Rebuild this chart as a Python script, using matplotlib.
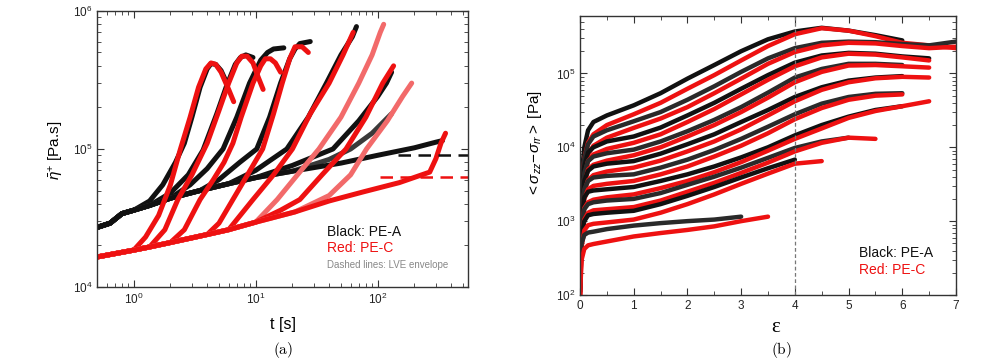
import matplotlib.pyplot as plt
from matplotlib.ticker import LogLocator, MultipleLocator, NullFormatter

plt.rcParams['font.family'] = ['Liberation Sans', 'DejaVu Sans']
plt.rcParams['mathtext.fontset'] = 'custom'
plt.rcParams['mathtext.rm'] = 'Liberation Sans'
plt.rcParams['mathtext.it'] = 'Liberation Sans:italic'

BLACK = '#111111'
RED = '#ee1111'
PINK = '#f26a6a'

# ---- (a) transient extensional viscosity vs time ----
# PE-A (black): common start-up curve, then each rate leaves it
pea_base_t = [0.5, 0.64, 0.8, 1.0, 1.35, 2.0, 3.5, 6, 10, 20, 50, 100, 200, 300]
pea_base_eta = [2.7e4, 2.9e4, 3.4e4, 3.6e4, 3.9e4, 4.4e4, 5.0e4, 5.6e4, 6.2e4,
                6.9e4, 7.9e4, 9.0e4, 1.02e5, 1.12e5]

# (number of base points kept, t after departure, eta after departure)
pea_a1 = (4, [1.35, 1.73, 2.2, 2.6, 3.0, 3.5, 4.0, 4.3, 4.7, 5.2, 5.8],
          [4.2e4, 5.5e4, 8.0e4, 1.1e5, 1.7e5, 2.8e5, 3.8e5, 4.15e5, 4.1e5, 3.7e5, 3.0e5])
pea_a2 = (5, [2.0, 2.8, 3.7, 4.8, 5.8, 6.8, 7.5, 8.3, 9.5],
          [4.8e4, 6.5e4, 9.8e4, 1.8e5, 2.9e5, 4.1e5, 4.6e5, 4.8e5, 4.6e5])
pea_a3 = (6, [2.9, 4.0, 5.4, 7.0, 8.9, 11, 12.5, 14, 17],
          [5.5e4, 7.2e4, 1.0e5, 1.7e5, 3.0e5, 4.4e5, 5.0e5, 5.3e5, 5.4e5])
pea_a4 = (7, [5, 7.4, 10.2, 13, 16, 19, 21, 23, 28],
          [6.0e4, 8.0e4, 1.0e5, 1.7e5, 3.0e5, 4.5e5, 5.3e5, 5.8e5, 6.0e5])
pea_a5 = (8, [10, 18, 27, 38, 50, 62, 67],
          [7.0e4, 1.0e5, 1.7e5, 3.0e5, 4.8e5, 6.5e5, 7.7e5])
pea_a6 = (9, [20, 43, 70, 100, 118, 130],
          [7.6e4, 1.0e5, 1.6e5, 2.4e5, 3.0e5, 3.6e5])
pea_a7 = (10, [40, 60, 90, 130], [8.4e4, 1.0e5, 1.3e5, 1.8e5])
pea_a8 = (14, [340], [1.15e5])

# PE-C (red)
pec_base_t = [0.5, 1.0, 1.35, 2.0, 4, 6, 10, 21, 40, 77, 150, 267]
pec_base_eta = [1.65e4, 1.85e4, 1.95e4, 2.1e4, 2.4e4, 2.6e4, 2.95e4, 3.5e4,
                4.2e4, 4.9e4, 5.7e4, 6.8e4]

pec_a1 = (2, [1.25, 1.6, 2.0, 2.4, 2.9, 3.4, 3.9, 4.3, 4.7, 5.2, 6.0, 6.6],
          [2.3e4, 3.3e4, 5.5e4, 9.8e4, 1.7e5, 2.8e5, 3.8e5, 4.2e5, 4.1e5, 3.6e5, 2.7e5, 2.2e5])
pec_a2 = (3, [1.8, 2.3, 3.0, 4.0, 5.0, 6.0, 7.0, 7.7, 8.5, 9.5, 10.5, 11.5],
          [2.6e4, 4.3e4, 6.5e4, 1.1e5, 1.9e5, 3.0e5, 4.2e5, 4.7e5, 4.7e5, 4.2e5, 3.3e5, 2.7e5])
pec_a3 = (4, [2.6, 3.5, 4.5, 5.5, 6.5, 7.6, 9.5, 11, 12, 13.2, 14.5, 16],
          [2.6e4, 4.3e4, 6.0e4, 8.0e4, 1.1e5, 1.7e5, 3.0e5, 4.0e5, 4.5e5, 4.5e5, 4.2e5, 3.6e5])
pec_a4 = (5, [5, 6.5, 9, 11.4, 14, 16.5, 19, 21, 24, 27],
          [2.9e4, 4.3e4, 7.0e4, 1.0e5, 1.8e5, 3.0e5, 4.5e5, 5.5e5, 5.5e5, 5.0e5])
pec_a5 = (6, [9.5, 14, 20, 28, 40, 52, 63],
          [4.3e4, 6.5e4, 1.0e5, 1.8e5, 3.0e5, 4.8e5, 7.0e5])
pec_a6 = (7, [15, 22, 33, 50, 70, 90, 105, 112],
          [4.3e4, 6.5e4, 1.0e5, 1.7e5, 3.0e5, 4.8e5, 7.0e5, 8.0e5])
pec_a7 = (7, [16, 23, 35, 55, 80, 110, 135],
          [3.6e4, 4.3e4, 6.5e4, 1.0e5, 1.7e5, 3.0e5, 4.0e5])
pec_a8 = (8, [40, 60, 81, 120, 160, 190],
          [4.6e4, 6.5e4, 1.0e5, 1.6e5, 2.4e5, 3.0e5])
pec_a9 = (12, [300, 330, 360], [8.5e4, 1.1e5, 1.3e5])

# LVE envelopes (visible plateau part)
lve_pea_t = [146, 550]
lve_pea_eta = [9.0e4, 9.0e4]
lve_pec_t = [105, 550]
lve_pec_eta = [6.25e4, 6.25e4]

# ---- (b) stress difference vs Hencky strain ----
eps_grid = [0, 0.03, 0.08, 0.15, 0.25, 0.5, 1, 1.5, 2, 2.5, 3, 3.5, 4, 4.5,
            5, 5.5, 6, 6.5, 7]

pea_b1 = [400, 4e3, 1.0e4, 1.7e4, 2.2e4, 2.7e4, 3.7e4, 5.4e4, 8.5e4, 1.3e5,
          2.0e5, 2.9e5, 3.7e5, 4.15e5, 3.8e5, 3.3e5, 2.8e5]
pec_b1 = [200, 2.5e3, 7e3, 1.15e4, 1.5e4, 2.0e4, 2.8e4, 4.0e4, 6.2e4, 9.5e4,
          1.5e5, 2.35e5, 3.4e5, 4.1e5, 3.8e5, 3.2e5, 2.6e5, 2.4e5, 2.2e5]
pea_b2 = [300, 3e3, 7e3, 1.1e4, 1.4e4, 1.7e4, 2.25e4, 3.0e4, 4.4e4, 6.7e4,
          1.05e5, 1.6e5, 2.2e5, 2.6e5, 2.7e5, 2.65e5, 2.5e5, 2.4e5, 2.7e5]
pec_b2 = [150, 2e3, 5e3, 8e3, 1.05e4, 1.35e4, 1.83e4, 2.45e4, 3.5e4, 5.4e4,
          8.5e4, 1.35e5, 1.95e5, 2.4e5, 2.6e5, 2.55e5, 2.35e5, 2.2e5, 2.3e5]
pea_b3 = [250, 2.5e3, 5.5e3, 8.5e3, 1.0e4, 1.2e4, 1.4e4, 1.85e4, 2.7e4, 4.0e4,
          6.2e4, 9.5e4, 1.4e5, 1.75e5, 1.9e5, 1.85e5, 1.7e5, 1.6e5]
pec_b3 = [130, 1.6e3, 4e3, 6.5e3, 8e3, 9.5e3, 1.15e4, 1.5e4, 2.2e4, 3.3e4,
          5.2e4, 8.2e4, 1.25e5, 1.65e5, 1.85e5, 1.8e5, 1.65e5, 1.5e5]
pea_b4 = [200, 2e3, 4.5e3, 6.5e3, 7.5e3, 8.3e3, 9.3e3, 1.2e4, 1.65e4, 2.35e4,
          3.5e4, 5.5e4, 8.8e4, 1.15e5, 1.35e5, 1.35e5, 1.3e5]
pec_b4 = [120, 1.3e3, 3.2e3, 5e3, 5.8e3, 6.6e3, 7.8e3, 1.0e4, 1.4e4, 2.0e4,
          3.0e4, 4.7e4, 7.6e4, 1.05e5, 1.28e5, 1.3e5, 1.25e5, 1.2e5]
pea_b5 = [180, 1.6e3, 3.5e3, 4.8e3, 5.5e3, 6.0e3, 6.5e3, 8.2e3, 1.1e4, 1.5e4,
          2.2e4, 3.2e4, 4.8e4, 6.5e4, 8.0e4, 8.8e4, 9.2e4]
pec_b5 = [110, 1.1e3, 2.5e3, 3.6e3, 4.2e3, 4.7e3, 5.3e3, 6.6e3, 8.8e3, 1.2e4,
          1.75e4, 2.7e4, 4.2e4, 6.0e4, 7.6e4, 8.6e4, 9.0e4, 8.8e4]
pea_b6 = [160, 1.3e3, 2.7e3, 3.5e3, 3.9e3, 4.1e3, 4.3e3, 5.3e3, 6.8e3, 9.2e3,
          1.3e4, 1.9e4, 2.8e4, 3.9e4, 4.8e4, 5.3e4, 5.4e4]
pec_b6 = [100, 900, 2e3, 2.7e3, 3.0e3, 3.2e3, 3.5e3, 4.3e3, 5.5e3, 7.5e3,
          1.05e4, 1.55e4, 2.4e4, 3.4e4, 4.4e4, 5.0e4, 5.2e4]
pea_b7 = [140, 1.1e3, 2.1e3, 2.5e3, 2.6e3, 2.7e3, 2.9e3, 3.5e3, 4.3e3, 5.5e3,
          7.3e3, 1.0e4, 1.45e4, 2.0e4, 2.6e4, 3.2e4, 3.6e4]
pec_b7 = [100, 750, 1.5e3, 1.8e3, 1.95e3, 2.1e3, 2.3e3, 2.8e3, 3.5e3, 4.6e3,
          6.3e3, 9.0e3, 1.3e4, 1.8e4, 2.5e4, 3.1e4, 3.6e4, 4.2e4]
pea_b8 = [130, 850, 1.45e3, 1.7e3, 1.8e3, 1.9e3, 2.0e3, 2.4e3, 3.1e3, 4.0e3,
          5.3e3, 7.2e3, 9.8e3, 1.2e4, 1.35e4]
pec_b8 = [100, 600, 1.05e3, 1.3e3, 1.4e3, 1.45e3, 1.55e3, 1.9e3, 2.5e3, 3.3e3,
          4.5e3, 6.2e3, 8.8e3, 1.15e4, 1.35e4, 1.3e4]
pea_b9 = [120, 650, 1.0e3, 1.2e3, 1.25e3, 1.3e3, 1.38e3, 1.7e3, 2.2e3, 2.9e3,
          3.9e3, 5.2e3, 6.8e3]
pec_b9 = [100, 450, 750, 880, 920, 960, 1.05e3, 1.3e3, 1.7e3, 2.3e3,
          3.2e3, 4.4e3, 6.0e3, 6.5e3]
pea_b10 = [110, 500, 650, 700, 720, 780, 870, 940, 1.0e3, 1.05e3, 1.15e3]
pec_b10 = [100, 300, 420, 470, 490, 530, 620, 690, 760, 850, 1.0e3, 1.15e3]

strain_ref = 4


def build(base_t, base_eta, curve):
    n, t, eta = curve
    return base_t[:n] + t, base_eta[:n] + eta


fig = plt.figure(figsize=(10, 3.64), dpi=100)
ax1 = fig.add_axes([0.097, 0.2115, 0.371, 0.7585])
ax2 = fig.add_axes([0.58, 0.1896, 0.376, 0.7665])

lw = 3.6
black_a = [pea_a1, pea_a2, pea_a3, pea_a4, pea_a5, pea_a6, pea_a7, pea_a8]
red_a = [pec_a1, pec_a2, pec_a3, pec_a4, pec_a5, pec_a6, pec_a7, pec_a8, pec_a9]
black_cols = [BLACK, BLACK, BLACK, BLACK, BLACK, BLACK, '#3a3a3a', BLACK]
red_cols = [RED, RED, RED, RED, RED, PINK, RED, PINK, RED]

for c, col in zip(black_a, black_cols):
    t, eta = build(pea_base_t, pea_base_eta, c)
    ax1.plot(t, eta, color=col, lw=lw, solid_capstyle='round', solid_joinstyle='round')
for c, col in zip(red_a, red_cols):
    t, eta = build(pec_base_t, pec_base_eta, c)
    ax1.plot(t, eta, color=col, lw=lw, solid_capstyle='round', solid_joinstyle='round')

ax1.plot(lve_pea_t, lve_pea_eta, color=BLACK, lw=1.8, ls=(0, (5, 3)))
ax1.plot(lve_pec_t, lve_pec_eta, color=RED, lw=1.8, ls=(0, (5, 3)))

ax1.set_xscale('log')
ax1.set_yscale('log')
ax1.set_xlim(0.5, 550)
ax1.set_ylim(1e4, 1e6)

ax1.text(0.62, 0.2, 'Black: PE-A', transform=ax1.transAxes, color=BLACK,
         fontsize=10, va='center')
ax1.text(0.62, 0.141, 'Red: PE-C', transform=ax1.transAxes, color=RED,
         fontsize=10, va='center')
ax1.text(0.62, 0.08, 'Dashed lines: LVE envelope', transform=ax1.transAxes,
         color='#888888', fontsize=7, va='center')

# panel b
black_b = [pea_b1, pea_b2, pea_b3, pea_b4, pea_b5, pea_b6, pea_b7, pea_b8, pea_b9, pea_b10]
red_b = [pec_b1, pec_b2, pec_b3, pec_b4, pec_b5, pec_b6, pec_b7, pec_b8, pec_b9, pec_b10]
for i, (a, c) in enumerate(zip(black_b, red_b)):
    ax2.plot(eps_grid[:len(a)], a, color=BLACK if i % 2 == 0 else '#2a2a2a',
             lw=3.2, solid_capstyle='round', solid_joinstyle='round')
    ax2.plot(eps_grid[:len(c)], c, color=RED, lw=3.2, solid_capstyle='round',
             solid_joinstyle='round')

ax2.axvline(strain_ref, color='#777777', lw=0.9, ls=(0, (3, 2)))
ax2.set_yscale('log')
ax2.set_xlim(0, 7)
ax2.set_ylim(1e2, 6e5)
ax2.xaxis.set_major_locator(MultipleLocator(1))
ax2.xaxis.set_minor_locator(MultipleLocator(0.5))

ax2.text(0.742, 0.15, 'Black: PE-A', transform=ax2.transAxes, color=BLACK,
         fontsize=10, va='center')
ax2.text(0.742, 0.09, 'Red: PE-C', transform=ax2.transAxes, color=RED,
         fontsize=10, va='center')

for ax in (ax1, ax2):
    ax.tick_params(which='both', direction='in', top=True, right=True,
                   labelsize=8.5, colors='#333333', labelcolor='#222222')
    ax.tick_params(which='major', length=5, width=0.8)
    ax.tick_params(which='minor', length=3, width=0.6)
    ax.yaxis.set_minor_locator(LogLocator(base=10, subs=range(2, 10)))
    ax.yaxis.set_minor_formatter(NullFormatter())
    for s in ax.spines.values():
        s.set_linewidth(1.0)
        s.set_color('#333333')
ax1.xaxis.set_minor_locator(LogLocator(base=10, subs=range(2, 10)))
ax1.xaxis.set_minor_formatter(NullFormatter())

fig.text(0.283, 1 - 325 / 364, 't [s]', ha='center', va='center', fontsize=11.5)
fig.text(0.057, 0.588, r'$\bar{\eta}^{+}$ [Pa.s]', rotation=90,
         ha='center', va='center', fontsize=11)
fig.text(0.776, 1 - 327 / 364, 'ε', ha='center', va='center',
         fontsize=15, family='Liberation Serif')
fig.text(0.535, 0.607, r'$<\sigma_{zz}\!-\!\sigma_{rr}>$ [Pa]', rotation=90,
         ha='center', va='center', fontsize=11)
fig.text(0.283, 0.038, r'$\mathrm{(a)}$', ha='center', va='center',
         fontsize=11, math_fontfamily='cm')
fig.text(0.781, 0.038, r'$\mathrm{(b)}$', ha='center', va='center',
         fontsize=11, math_fontfamily='cm')

fig.savefig('out.png', dpi=100)
